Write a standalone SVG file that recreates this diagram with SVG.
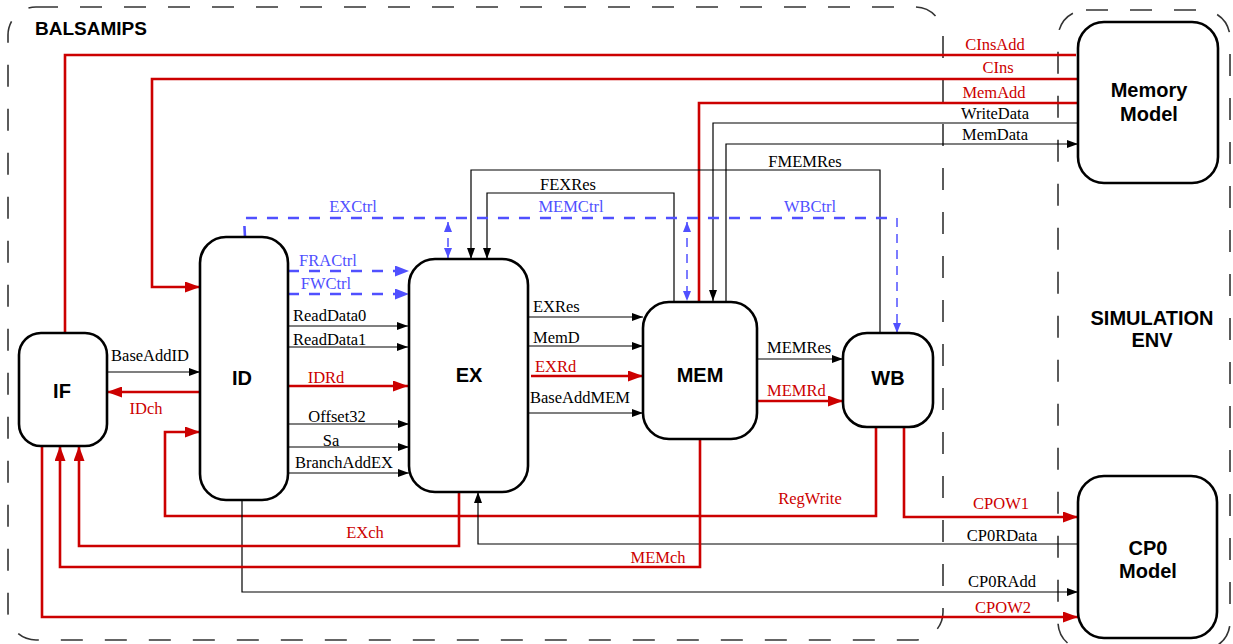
<svg xmlns="http://www.w3.org/2000/svg" width="1233" height="644" viewBox="0 0 1233 644">
<defs>
<style>
.bnd{fill:none;stroke:#333;stroke-width:1.6;stroke-dasharray:22 22}
.node{fill:#fff;stroke:#000;stroke-width:2.6}
.nl{font-family:"Liberation Sans",Arial,sans-serif;font-weight:bold;font-size:20px;text-anchor:middle;fill:#000}
.r{fill:none;stroke:#cc0000;stroke-width:2.6}
.k{fill:none;stroke:#000;stroke-width:1.2}
.b{fill:none;stroke:#5050ff;stroke-width:2.6;stroke-dasharray:11 10}
.bt{fill:none;stroke:#5050ff;stroke-width:1.5;stroke-dasharray:9 7}
.lab{font-family:"Liberation Serif","Times New Roman",serif;font-size:16.5px}
.lr{fill:#cc0000}.lk{fill:#000}.lb{fill:#5050ff}
.m{text-anchor:middle}
</style>
<marker id="ar" markerUnits="userSpaceOnUse" markerWidth="15" markerHeight="11" refX="15" refY="5.5" orient="auto"><path d="M0,0 L15,5.5 L0,11 z" fill="#cc0000"/></marker>
<marker id="ak" markerUnits="userSpaceOnUse" markerWidth="11" markerHeight="8" refX="11" refY="4" orient="auto"><path d="M0,0 L11,4 L0,8 z" fill="#000"/></marker>
<marker id="ab" markerUnits="userSpaceOnUse" markerWidth="14" markerHeight="11" refX="14" refY="5.5" orient="auto"><path d="M0,0 L14,5.5 L0,11 z" fill="#5050ff"/></marker>
<marker id="abs" markerUnits="userSpaceOnUse" markerWidth="10" markerHeight="8" refX="10" refY="4" orient="auto-start-reverse"><path d="M0,0 L10,4 L0,8 z" fill="#5050ff"/></marker>
</defs>
<rect width="1233" height="644" fill="#fff"/>
<g id="boundaries">
<rect class="bnd" x="8" y="7" width="935" height="633" rx="28"/>
<rect class="bnd" x="1058" y="10" width="172" height="640" rx="28"/>
<text x="35" y="35" font-family="Liberation Sans,Arial,sans-serif" font-weight="bold" font-size="19" fill="#000">BALSAMIPS</text>
<text x="1152" y="325" class="nl">SIMULATION</text>
<text x="1152" y="347" class="nl">ENV</text>
</g>
<g id="connectors">
<!-- memory interface -->
<path class="r" d="M65,333 V55 H1076"/>
<path class="r" d="M1078,79 H152 V287 H200" marker-end="url(#ar)"/>
<path class="r" d="M699,302 V103 H1078"/>
<path class="k" d="M1078,123 H713 V301" marker-end="url(#ak)"/>
<path class="k" d="M726,301 V144 H1078" marker-end="url(#ak)"/>
<path class="k" d="M880,333 V170 H471 V259" marker-end="url(#ak)"/>
<path class="k" d="M674,301 V193 H487 V259" marker-end="url(#ak)"/>
<!-- control -->
<path class="b" d="M245,237 L244,218 H897"/>
<path class="bt" d="M897,218 V333" marker-end="url(#abs)"/>
<path class="bt" d="M448,222 V258" marker-start="url(#abs)" marker-end="url(#abs)"/>
<path class="bt" d="M687,222 V301" marker-start="url(#abs)" marker-end="url(#abs)"/>
<path class="b" d="M288,271 H409" marker-end="url(#ab)"/>
<path class="b" d="M288,294 H409" marker-end="url(#ab)"/>
<!-- ID -> EX -->
<path class="k" d="M286,326 H408" marker-end="url(#ak)"/>
<path class="k" d="M288,347 H408" marker-end="url(#ak)"/>
<path class="r" d="M288,386 H408" marker-end="url(#ar)"/>
<path class="k" d="M288,424 H409" marker-end="url(#ak)"/>
<path class="k" d="M288,447 H409" marker-end="url(#ak)"/>
<path class="k" d="M288,473 H409" marker-end="url(#ak)"/>
<!-- IF <-> ID -->
<path class="k" d="M107,372 H200" marker-end="url(#ak)"/>
<path class="r" d="M199,392 H107" marker-end="url(#ar)"/>
<!-- EX -> MEM -->
<path class="k" d="M528,317 H643" marker-end="url(#ak)"/>
<path class="k" d="M528,346 H643" marker-end="url(#ak)"/>
<path class="r" d="M531,376 H643" marker-end="url(#ar)"/>
<path class="k" d="M528,413 H643" marker-end="url(#ak)"/>
<!-- MEM -> WB -->
<path class="k" d="M757,359 H843" marker-end="url(#ak)"/>
<path class="r" d="M757,401 H843" marker-end="url(#ar)"/>
<!-- feedback -->
<path class="r" d="M876,427 V516 H165 V432 H200" marker-end="url(#ar)"/>
<path class="r" d="M904,427 V517 H1078" marker-end="url(#ar)"/>
<path class="k" d="M1078,544 H478 V492" marker-end="url(#ak)"/>
<path class="k" d="M242,500 V592 H1078" marker-end="url(#ak)"/>
<path class="r" d="M42,446 V617 H1078" marker-end="url(#ar)"/>
<path class="r" d="M459,492 V546 H79 V446" marker-end="url(#ar)"/>
<path class="r" d="M700,439 V567 H60 V446" marker-end="url(#ar)"/>
<!-- labels -->
<g class="lab">
<text class="lr m" x="995" y="50">CInsAdd</text>
<text class="lr m" x="998" y="73">CIns</text>
<text class="lr m" x="994" y="98">MemAdd</text>
<text class="lk m" x="995" y="119">WriteData</text>
<text class="lk m" x="995" y="140">MemData</text>
<text class="lk m" x="805" y="167">FMEMRes</text>
<text class="lk m" x="568" y="190">FEXRes</text>
<text class="lb m" x="353" y="212">EXCtrl</text>
<text class="lb m" x="571" y="212">MEMCtrl</text>
<text class="lb m" x="810" y="212">WBCtrl</text>
<text class="lb m" x="328" y="266">FRACtrl</text>
<text class="lb m" x="326" y="289">FWCtrl</text>
<text class="lk" x="293" y="321">ReadData0</text>
<text class="lk" x="293" y="345">ReadData1</text>
<text class="lr m" x="326" y="383">IDRd</text>
<text class="lk m" x="337" y="422">Offset32</text>
<text class="lk m" x="331" y="446">Sa</text>
<text class="lk m" x="344" y="468">BranchAddEX</text>
<text class="lk m" x="150" y="361">BaseAddID</text>
<text class="lr m" x="146" y="414">IDch</text>
<text class="lk" x="533" y="312">EXRes</text>
<text class="lk" x="533" y="343">MemD</text>
<text class="lr" x="535" y="372">EXRd</text>
<text class="lk" x="530" y="403">BaseAddMEM</text>
<text class="lk" x="767" y="353">MEMRes</text>
<text class="lr" x="767" y="396">MEMRd</text>
<text class="lr m" x="810" y="504">RegWrite</text>
<text class="lr m" x="1001" y="509">CPOW1</text>
<text class="lk m" x="1002" y="541">CP0RData</text>
<text class="lr m" x="365" y="538">EXch</text>
<text class="lr m" x="658" y="563">MEMch</text>
<text class="lk m" x="1002" y="587">CP0RAdd</text>
<text class="lr m" x="1003" y="613">CPOW2</text>
</g>
</g>
<g id="node-memory"><rect class="node" x="1078" y="22" width="140" height="161" rx="26"/><text class="nl" x="1149" y="97">Memory</text><text class="nl" x="1149" y="121">Model</text></g>
<g id="node-cp0"><rect class="node" x="1078" y="476" width="139" height="162" rx="26"/><text class="nl" x="1148" y="555">CP0</text><text class="nl" x="1148" y="578">Model</text></g>
<g id="node-if"><rect class="node" x="19" y="333" width="88" height="113" rx="22"/><text class="nl" x="62" y="398">IF</text></g>
<g id="node-id"><rect class="node" x="200" y="237" width="88" height="263" rx="26"/><text class="nl" x="242" y="385">ID</text></g>
<g id="node-ex"><rect class="node" x="409" y="259" width="119" height="233" rx="26"/><text class="nl" x="469" y="382">EX</text></g>
<g id="node-mem"><rect class="node" x="643" y="302" width="114" height="137" rx="26"/><text class="nl" x="700" y="382">MEM</text></g>
<g id="node-wb"><rect class="node" x="843" y="333" width="90" height="94" rx="24"/><text class="nl" x="888" y="385">WB</text></g>
</svg>
